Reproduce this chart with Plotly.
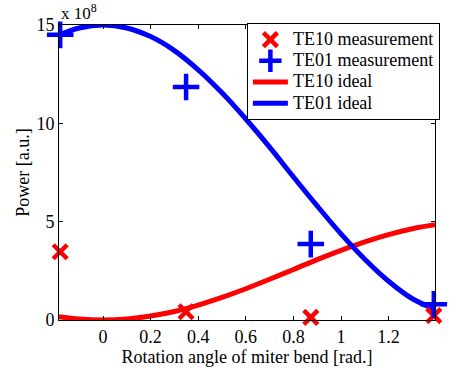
import plotly.graph_objects as go

# measurement data (x in rad, power in 1e8 a.u.)
meas_x = [-0.18, 0.349, 0.873, 1.39]
te10_meas = [3.47, 0.42, 0.13, 0.22]
te01_meas = [14.5, 11.85, 3.86, 0.8]

# ideal curves
ideal_x = [-0.185, -0.1, 0.0, 0.1, 0.2, 0.3, 0.4, 0.5, 0.6, 0.7, 0.8, 0.9, 1.0, 1.1, 1.2, 1.3, 1.395]
te10_ideal = [0.17, 0.05, 0.0, 0.05, 0.2, 0.43, 0.76, 1.15, 1.59, 2.07, 2.57, 3.07, 3.54, 3.97, 4.34, 4.64, 4.84]
te01_ideal = [14.49, 14.85, 15.0, 14.85, 14.41, 13.7, 12.72, 11.55, 10.22, 8.79, 7.28, 5.8, 4.38, 3.09, 1.97, 1.08, 0.55]

xticks = [0, 0.2, 0.4, 0.6, 0.8, 1, 1.2]
xtick_text = ["0", "0.2", "0.4", "0.6", "0.8", "1", "1.2"]
yticks = [0, 5, 10, 15]

font = "Liberation Serif, Times New Roman, serif"


def lg(name):
    # render legend text at 18px while keeping rows compact
    return '<span style="font-size:18px">' + name + '</span>'


fig = go.Figure()
fig.add_trace(go.Scatter(x=ideal_x, y=te10_ideal, mode="lines", name="TE10 ideal",
                         line=dict(color="#ff0000", width=5, shape="spline"), showlegend=False))
fig.add_trace(go.Scatter(x=ideal_x, y=te01_ideal, mode="lines", name="TE01 ideal",
                         line=dict(color="#0000ff", width=5, shape="spline"), showlegend=False))
fig.add_trace(go.Scatter(x=meas_x, y=te10_meas, mode="markers", name=lg("TE10 measurement"),
                         marker=dict(symbol="x-thin", size=14, line=dict(color="#ff0000", width=4.5)),
                         cliponaxis=False))
fig.add_trace(go.Scatter(x=meas_x, y=te01_meas, mode="markers", name=lg("TE01 measurement"),
                         marker=dict(symbol="cross-thin", size=19, line=dict(color="#0000ff", width=4.5)),
                         cliponaxis=False))
# legend entries for lines (ordered after markers)
fig.add_trace(go.Scatter(x=[None], y=[None], mode="lines", name=lg("TE10 ideal"),
                         line=dict(color="#ff0000", width=5)))
fig.add_trace(go.Scatter(x=[None], y=[None], mode="lines", name=lg("TE01 ideal"),
                         line=dict(color="#0000ff", width=5)))

axis_common = dict(showline=True, linecolor="black", linewidth=1, mirror="ticks",
                   ticks="inside", ticklen=4, tickcolor="black", showgrid=False,
                   zeroline=False, tickfont=dict(family=font, size=18, color="black"))

fig.update_layout(
    width=449, height=368,
    margin=dict(l=59, r=9, t=25, b=48),
    paper_bgcolor="white", plot_bgcolor="white",
    font=dict(family=font, size=18, color="black"),
    xaxis=dict(range=[-0.185, 1.395], tickvals=xticks, ticktext=xtick_text,
               title=dict(text="Rotation angle of miter bend [rad.]", font=dict(family=font, size=18), standoff=0),
               **axis_common),
    yaxis=dict(range=[0, 15], tickvals=yticks,
               title=dict(text="Power [a.u.]", font=dict(family=font, size=18), standoff=2),
               **axis_common),
    legend=dict(x=1.013, y=1.007, xanchor="right", yanchor="top",
                bgcolor="white", bordercolor="black", borderwidth=1,
                font=dict(family=font, size=14), tracegroupgap=0, itemwidth=35),
    annotations=[dict(text="x 10<sup>8</sup>", xref="paper", yref="paper", x=0.0, y=1.0,
                      xanchor="left", yanchor="middle", yshift=13, showarrow=False,
                      font=dict(family=font, size=17))],
)

fig.write_html("out.html", config={"displayModeBar": False},
               post_script="document.body.style.margin='0';")
